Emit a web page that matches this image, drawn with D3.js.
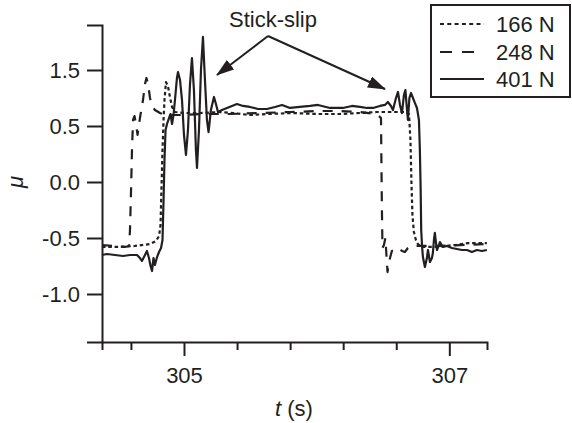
<!DOCTYPE html>
<html>
<head>
<meta charset="utf-8">
<script src="https://cdn.jsdelivr.net/npm/d3@7"></script>
<style>
  html, body { margin: 0; padding: 0; background: #fff; }
  svg { display: block; }
  text { font-family: "Liberation Sans", Arial, Helvetica, sans-serif; fill: #231f20; }
</style>
</head>
<body>
<svg id="chart" width="572" height="423"></svg>
<script>
// ---------- data ----------
const seriesNames = ["166 N", "248 N", "401 N"];

const t166 = [304.382, 304.518, 304.631, 304.744, 304.789, 304.812, 304.823, 304.830, 304.838, 304.846, 304.853, 304.864, 304.879, 304.894, 304.910, 304.932, 305.008, 305.121, 305.271, 305.369, 305.497, 305.625, 305.821, 306.002, 306.176, 306.326, 306.454, 306.590, 306.665, 306.696, 306.707, 306.714, 306.722, 306.733, 306.748, 306.763, 306.794, 306.891, 307.042, 307.140, 307.283];
const mu166 = [-0.580, -0.580, -0.571, -0.554, -0.527, -0.482, -0.384, -0.071, 0.286, 0.554, 0.732, 0.893, 0.857, 0.759, 0.670, 0.625, 0.616, 0.616, 0.625, 0.616, 0.598, 0.607, 0.616, 0.607, 0.607, 0.616, 0.625, 0.625, 0.625, 0.607, 0.375, 0.018, -0.295, -0.446, -0.518, -0.554, -0.580, -0.580, -0.563, -0.545, -0.545];

const t248 = [304.382, 304.480, 304.555, 304.586, 304.593, 304.601, 304.608, 304.616, 304.627, 304.638, 304.650, 304.668, 304.691, 304.706, 304.717, 304.729, 304.744, 304.759, 304.781, 304.819, 304.857, 304.970, 305.121, 305.347, 305.573, 305.799, 306.025, 306.176, 306.326, 306.439, 306.469, 306.485, 306.488, 306.492, 306.496, 306.507, 306.518, 306.526, 306.534, 306.545, 306.567, 306.590, 306.613, 306.643, 306.665, 306.688, 306.718, 306.778, 306.929, 307.080, 307.283];
const mu248 = [-0.563, -0.571, -0.580, -0.571, -0.429, -0.071, 0.286, 0.554, 0.589, 0.518, 0.420, 0.571, 0.732, 0.875, 0.929, 0.875, 0.750, 0.679, 0.643, 0.616, 0.598, 0.598, 0.607, 0.607, 0.616, 0.625, 0.634, 0.634, 0.625, 0.607, 0.589, 0.571, 0.196, -0.250, -0.589, -0.563, -0.500, -0.652, -0.804, -0.714, -0.616, -0.607, -0.589, -0.616, -0.625, -0.589, -0.571, -0.571, -0.571, -0.563, -0.554];

const t401 = [304.382, 304.420, 304.480, 304.540, 304.593, 304.646, 304.668, 304.683, 304.706, 304.721, 304.736, 304.748, 304.759, 304.770, 304.781, 304.797, 304.812, 304.827, 304.838, 304.846, 304.853, 304.861, 304.872, 304.887, 304.898, 304.910, 304.921, 304.932, 304.947, 304.955, 304.970, 304.985, 305.000, 305.015, 305.030, 305.045, 305.060, 305.075, 305.090, 305.098, 305.113, 305.128, 305.143, 305.158, 305.173, 305.185, 305.203, 305.226, 305.241, 305.256, 305.286, 305.324, 305.362, 305.399, 305.445, 305.497, 305.558, 305.625, 305.686, 305.739, 305.799, 305.874, 305.950, 306.010, 306.100, 306.198, 306.266, 306.326, 306.379, 306.424, 306.477, 306.515, 306.537, 306.560, 306.575, 306.598, 306.613, 306.628, 306.643, 306.658, 306.669, 306.680, 306.688, 306.699, 306.711, 306.726, 306.741, 306.756, 306.771, 306.778, 306.784, 306.788, 306.794, 306.801, 306.816, 306.831, 306.839, 306.854, 306.869, 306.876, 306.884, 306.891, 306.899, 306.907, 306.922, 306.929, 306.952, 306.982, 307.020, 307.057, 307.095, 307.133, 307.170, 307.208, 307.246, 307.283];
const mu401 = [-0.652, -0.643, -0.652, -0.661, -0.652, -0.652, -0.679, -0.705, -0.652, -0.616, -0.679, -0.750, -0.795, -0.679, -0.741, -0.670, -0.625, -0.589, -0.518, -0.161, 0.196, 0.464, 0.518, 0.571, 0.607, 0.518, 0.598, 0.732, 0.929, 0.982, 0.911, 0.732, 0.420, 0.241, 0.464, 0.866, 1.107, 0.821, 0.286, 0.125, 0.464, 1.000, 1.295, 0.911, 0.554, 0.446, 0.643, 0.759, 0.696, 0.625, 0.643, 0.661, 0.679, 0.696, 0.679, 0.670, 0.652, 0.652, 0.670, 0.688, 0.661, 0.670, 0.679, 0.688, 0.661, 0.661, 0.679, 0.670, 0.661, 0.661, 0.679, 0.688, 0.714, 0.679, 0.643, 0.750, 0.804, 0.688, 0.616, 0.777, 0.821, 0.661, 0.554, 0.750, 0.795, 0.750, 0.705, 0.661, 0.554, 0.286, -0.071, -0.429, -0.563, -0.670, -0.759, -0.679, -0.607, -0.714, -0.679, -0.634, -0.518, -0.455, -0.536, -0.607, -0.563, -0.536, -0.580, -0.571, -0.589, -0.598, -0.607, -0.607, -0.625, -0.607, -0.616, -0.607];

const xTickValues = [304.6, 305.0, 305.4, 305.8, 306.2, 306.6, 307.0];
const xTickLabels = ["", "305", "", "", "", "", "307"];
const yTickValues = [1.0, 0.5, 0.0, -0.5, -1.0];
const yTickLabels = ["1.5", "0.5", "0.0", "-0.5", "-1.0"];
const annotationText = "Stick-slip";

// ---------- layout ----------
const ink = "#231f20";
const svg = d3.select("#chart");
const x = d3.scaleLinear().domain([304.382, 307.284]).range([102, 487]);
const y = d3.scaleLinear().domain([-1.4286, 1.4018]).range([342, 25]);

const series = [
  { name: seriesNames[0], t: t166, mu: mu166, dash: "3.5,2.8" },
  { name: seriesNames[1], t: t248, mu: mu248, dash: "10,9" },
  { name: seriesNames[2], t: t401, mu: mu401, dash: null }
];

const line = d3.line().x(d => x(d[0])).y(d => y(d[1]));

series.forEach(s => {
  const pts = s.t.map((tv, i) => [tv, s.mu[i]]);
  svg.append("path")
    .datum(pts)
    .attr("d", line)
    .attr("fill", "none")
    .attr("stroke", ink)
    .attr("stroke-width", 2.2)
    .attr("stroke-linejoin", "round")
    .attr("stroke-dasharray", s.dash);
});

// axes
const xAxis = d3.axisBottom(x)
  .tickValues(xTickValues)
  .tickFormat((d, i) => xTickLabels[i])
  .tickSizeOuter(0)
  .tickSize(8);
const gx = svg.append("g").attr("transform", "translate(0,342)").call(xAxis);
gx.select(".domain").attr("stroke", ink).attr("stroke-width", 2);
gx.selectAll(".tick line").attr("stroke", ink).attr("stroke-width", 2)
  .attr("y2", (d, i) => xTickLabels[i] ? 14 : 8);
gx.selectAll(".tick text").attr("font-size", 22).attr("fill", ink)
  .attr("y", 25).attr("font-family", null);

const yAxis = d3.axisLeft(y)
  .tickValues(yTickValues)
  .tickFormat((d, i) => yTickLabels[i])
  .tickSizeOuter(0)
  .tickSize(15)
  .tickPadding(7);
const gy = svg.append("g").attr("transform", "translate(102,0)").call(yAxis);
gy.select(".domain").attr("stroke", ink).attr("stroke-width", 2);
gy.selectAll(".tick line").attr("stroke", ink).attr("stroke-width", 2);
gy.selectAll(".tick text").attr("font-size", 22).attr("fill", ink).attr("font-family", null);

// axis titles
const xt = svg.append("text").attr("x", 294).attr("y", 416).attr("text-anchor", "middle").attr("font-size", 22);
xt.append("tspan").attr("font-style", "italic").text("t");
xt.append("tspan").text(" (s)");

svg.append("text")
  .attr("transform", "translate(23,182) rotate(-90)")
  .attr("text-anchor", "middle")
  .attr("font-size", 22)
  .attr("font-style", "italic")
  .text("μ");

// annotation
svg.append("defs").append("marker")
  .attr("id", "arrow")
  .attr("viewBox", "0 0 18 12")
  .attr("refX", 17).attr("refY", 6)
  .attr("markerWidth", 18).attr("markerHeight", 12)
  .attr("markerUnits", "userSpaceOnUse")
  .attr("orient", "auto")
  .append("path").attr("d", "M0,0 L18,6 L0,12 Z").attr("fill", ink);

svg.append("text").attr("x", 273).attr("y", 27).attr("text-anchor", "middle")
  .attr("font-size", 22).text(annotationText);

const origin = [268, 36];
[[217, 75], [385, 89]].forEach(tip => {
  svg.append("line")
    .attr("x1", origin[0]).attr("y1", origin[1])
    .attr("x2", tip[0]).attr("y2", tip[1])
    .attr("stroke", ink).attr("stroke-width", 2)
    .attr("marker-end", "url(#arrow)");
});

// legend
const lg = svg.append("g");
lg.append("rect").attr("x", 431).attr("y", 5).attr("width", 139).attr("height", 92)
  .attr("fill", "#fff").attr("stroke", ink).attr("stroke-width", 2);
const rowY = [24, 52, 79];
const legendDash = ["4,3.3", "12,10", null];
series.forEach((s, i) => {
  lg.append("line").attr("x1", 440).attr("x2", 484).attr("y1", rowY[i]).attr("y2", rowY[i])
    .attr("stroke", ink).attr("stroke-width", 2).attr("stroke-dasharray", legendDash[i]);
  lg.append("text").attr("x", 496).attr("y", rowY[i] + 8).attr("font-size", 22).text(s.name);
});
</script>
</body>
</html>
